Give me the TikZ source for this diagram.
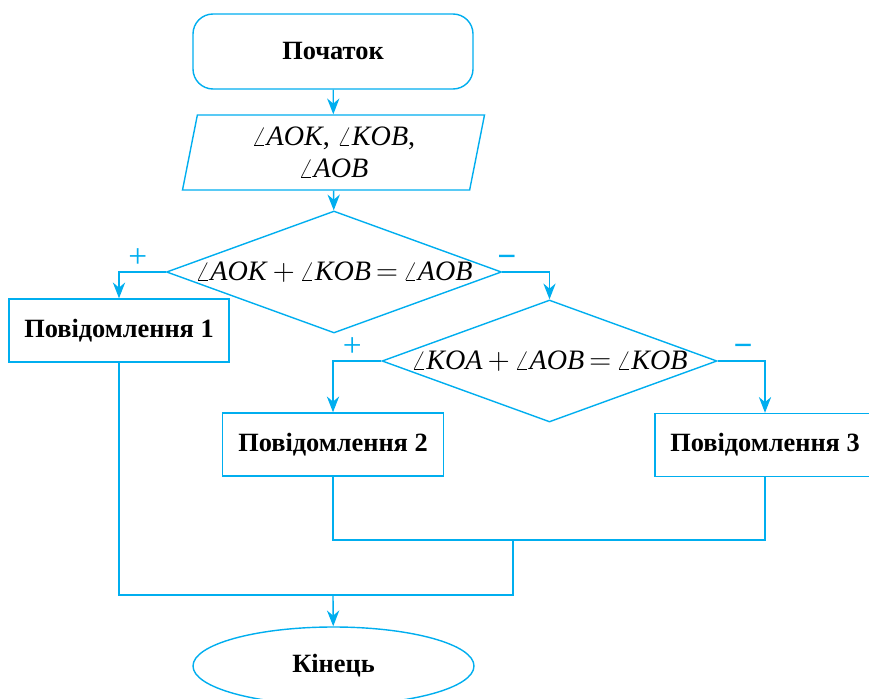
\documentclass[tikz,border=0pt]{standalone}
\usepackage{fontspec}
\setmainfont{Liberation Serif}
\usetikzlibrary{shapes.geometric,arrows.meta}
\definecolor{flowcyan}{RGB}{0,174,239}
\newcommand{\angl}[1]{$\angle$\textit{#1}}

\begin{document}
\begin{tikzpicture}[
  font=\fontsize{15}{17}\selectfont,
  line width=0.8pt,
  >={Stealth[length=9pt,width=7pt]},
  box/.style={draw=flowcyan, align=center, inner sep=0pt, font=\fontsize{15}{17}\selectfont\bfseries},
  formula/.style={font=\fontsize{16}{18}\selectfont},
  decision/.style={draw=flowcyan, diamond, aspect=2.75, inner sep=0pt, minimum width=6.7cm, minimum height=2.44cm, formula},
  sign/.style={text=flowcyan, font=\fontsize{19}{19}\selectfont, inner sep=1pt}]
\useasboundingbox (0,0) rectangle (17.38,-13.98);
\node[box, rounded corners=0.4cm, minimum width=5.6cm, minimum height=1.5cm] (start) at (6.66,-1.03) {Початок};
\node[draw=flowcyan, trapezium, trapezium left angle=73.6, trapezium right angle=106.4, trapezium stretches body, align=center, inner sep=0pt, minimum width=6.04cm, minimum height=1.5cm, formula] (input) at (6.67,-3.05) {\angl{AOK}, \angl{KOB},\\\angl{AOB}};
\node[decision] (check1) at (6.68,-5.44) {\angl{AOK}$\,+\,$\angl{KOB}$\,{=}\,$\angl{AOB}};
\node[box, minimum width=4.4cm, minimum height=1.26cm] (msg1) at (2.38,-6.61) {Повідомлення 1};
\node[decision] (check2) at (10.99,-7.22) {\angl{KOA}$\,+\,$\angl{AOB}$\,{=}\,$\angl{KOB}};
\node[box, minimum width=4.42cm, minimum height=1.26cm] (msg2) at (6.66,-8.89) {Повідомлення 2};
\node[box, minimum width=4.4cm, minimum height=1.26cm] (msg3) at (15.3,-8.9) {Повідомлення 3};
\node[box, ellipse, minimum width=5.62cm, minimum height=1.56cm] (end) at (6.67,-13.32) {Кінець};
\coordinate (join2) at (10.26,-10.8);
\coordinate (join1) at (6.66,-11.9);
\begin{scope}[draw=flowcyan]
\draw[->] (start) -- (input);
\draw[->] (input) -- (check1);
\draw[->] (check1.west) -| node[sign, pos=0.3, above=1pt] {+} (msg1);
\draw[->] (check1.east) -| node[sign, pos=0.05, above=1pt] {\bfseries −} (check2);
\draw[->] (check2.west) -| node[sign, pos=0.3, above=1pt] {+} (msg2);
\draw[->] (check2.east) -| node[sign, pos=0.27, above=1pt] {\bfseries −} (msg3);
\draw (msg2.south) |- (join2) -| (msg3.south);
\draw (msg1.south) |- (join1) -| (join2);
\draw[->] (join1) -- (end);
\end{scope}
\end{tikzpicture}
\end{document}
